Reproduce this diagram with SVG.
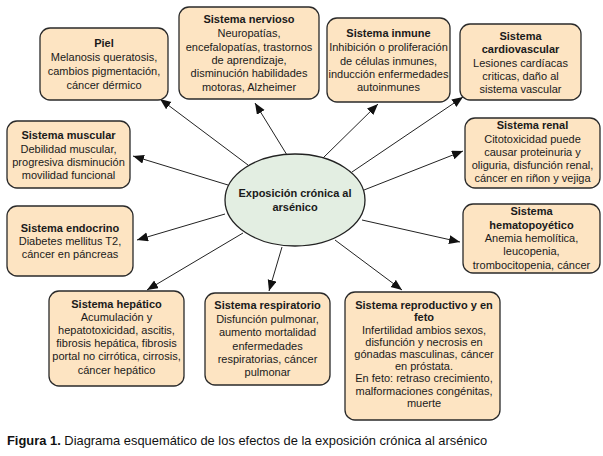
<svg xmlns="http://www.w3.org/2000/svg" width="603" height="456" viewBox="0 0 603 456">
<defs>
<marker id="arr" markerUnits="userSpaceOnUse" markerWidth="12" markerHeight="10" refX="11" refY="4.5" orient="auto">
<path d="M0,0 L11,4.5 L0,9 Z" fill="#111"/>
</marker>
<style>
.box{fill:#FDE4C2;stroke:#2a2a2a;stroke-width:1.3}
.t{font-family:"Liberation Sans",Arial,sans-serif;font-size:11px;fill:#1a1a1a;text-anchor:middle}
.b{font-weight:bold}
.c{stroke:#222;stroke-width:1;fill:none;marker-end:url(#arr)}
</style>
</defs>
<rect width="603" height="456" fill="#fff"/>
<g id="connectors">
<line class="c" x1="248" y1="165" x2="160" y2="99"/>
<line class="c" x1="287" y1="155" x2="255" y2="103"/>
<line class="c" x1="323" y1="158" x2="378" y2="104"/>
<line class="c" x1="352" y1="172" x2="463" y2="97"/>
<line class="c" x1="228" y1="185" x2="133" y2="156"/>
<line class="c" x1="364" y1="190" x2="463" y2="151"/>
<line class="c" x1="225" y1="214" x2="137" y2="240"/>
<line class="c" x1="362" y1="220" x2="460" y2="242"/>
<line class="c" x1="243" y1="233" x2="147" y2="290"/>
<line class="c" x1="282" y1="247" x2="269" y2="291"/>
<line class="c" x1="335" y1="240" x2="402" y2="290"/>
</g>
<g id="center">
<ellipse cx="295" cy="200" rx="70" ry="46" fill="#E3EEE2" stroke="#222" stroke-width="1.3"/>
<text class="t b" x="295" y="197" font-size="11.5">Exposición crónica al</text>
<text class="t b" x="295" y="211" font-size="11.5">arsénico</text>
</g>
<g id="piel">
<rect class="box" x="40" y="28" width="128" height="72" rx="10"/>
<text class="t b" x="104" y="47">Piel</text>
<text class="t" x="104" y="61">Melanosis queratosis,</text>
<text class="t" x="104" y="75">cambios pigmentación,</text>
<text class="t" x="104" y="89">cáncer dérmico</text>
</g>
<g id="nervioso">
<rect class="box" x="179" y="7" width="140" height="92" rx="10"/>
<text class="t b" x="249" y="23">Sistema nervioso</text>
<text class="t" x="249" y="37">Neuropatías,</text>
<text class="t" x="249" y="51">encefalopatías, trastornos</text>
<text class="t" x="249" y="64">de aprendizaje,</text>
<text class="t" x="249" y="77">disminución habilidades</text>
<text class="t" x="249" y="91">motoras, Alzheimer</text>
</g>
<g id="inmune">
<rect class="box" x="327" y="18" width="123" height="84" rx="10"/>
<text class="t b" x="388.5" y="37">Sistema inmune</text>
<text class="t" x="388.5" y="51">Inhibición o proliferación</text>
<text class="t" x="388.5" y="65">de células inmunes,</text>
<text class="t" x="388.5" y="78">inducción enfermedades</text>
<text class="t" x="388.5" y="91">autoinmunes</text>
</g>
<g id="cardiovascular">
<rect class="box" x="460" y="24" width="121" height="76" rx="10"/>
<text class="t b" x="520.5" y="40">Sistema</text>
<text class="t b" x="520.5" y="53">cardiovascular</text>
<text class="t" x="520.5" y="67">Lesiones cardíacas</text>
<text class="t" x="520.5" y="80">criticas, daño al</text>
<text class="t" x="520.5" y="93">sistema vascular</text>
</g>
<g id="muscular">
<rect class="box" x="7" y="121" width="123" height="67" rx="10"/>
<text class="t b" x="68.5" y="139">Sistema muscular</text>
<text class="t" x="68.5" y="153">Debilidad muscular,</text>
<text class="t" x="68.5" y="166">progresiva disminución</text>
<text class="t" x="68.5" y="179">movilidad funcional</text>
</g>
<g id="endocrino">
<rect class="box" x="7" y="206" width="126" height="70" rx="10"/>
<text class="t b" x="70" y="232">Sistema endocrino</text>
<text class="t" x="70" y="245">Diabetes mellitus T2,</text>
<text class="t" x="70" y="258">cáncer en páncreas</text>
</g>
<g id="renal">
<rect class="box" x="465" y="118" width="135" height="70" rx="10"/>
<text class="t b" x="532.5" y="129">Sistema renal</text>
<text class="t" x="532.5" y="143">Citotoxicidad puede</text>
<text class="t" x="532.5" y="156">causar proteinuria y</text>
<text class="t" x="532.5" y="169">oliguria, disfunción renal,</text>
<text class="t" x="532.5" y="182">cáncer en riñon y vejiga</text>
</g>
<g id="hematopoyetico">
<rect class="box" x="463" y="204" width="137" height="69" rx="10"/>
<text class="t b" x="531.5" y="215">Sistema</text>
<text class="t b" x="531.5" y="229">hematopoyético</text>
<text class="t" x="531.5" y="242">Anemia hemolítica,</text>
<text class="t" x="531.5" y="255">leucopenia,</text>
<text class="t" x="531.5" y="269">trombocitopenia, cáncer</text>
</g>
<g id="hepatico">
<rect class="box" x="49" y="291" width="135" height="95" rx="10"/>
<text class="t b" x="116.5" y="308">Sistema hepático</text>
<text class="t" x="116.5" y="321">Acumulación y</text>
<text class="t" x="116.5" y="334">hepatotoxicidad, ascitis,</text>
<text class="t" x="116.5" y="347">fibrosis hepática, fibrosis</text>
<text class="t" x="116.5" y="360">portal no cirrótica, cirrosis,</text>
<text class="t" x="116.5" y="374">cáncer hepático</text>
</g>
<g id="respiratorio">
<rect class="box" x="205" y="293" width="125" height="92" rx="10"/>
<text class="t b" x="267.5" y="309">Sistema respiratorio</text>
<text class="t" x="267.5" y="323">Disfunción pulmonar,</text>
<text class="t" x="267.5" y="336">aumento mortalidad</text>
<text class="t" x="267.5" y="350">enfermedades</text>
<text class="t" x="267.5" y="363">respiratorias, cáncer</text>
<text class="t" x="267.5" y="376">pulmonar</text>
</g>
<g id="reproductivo">
<rect class="box" x="345" y="292" width="155" height="128" rx="10"/>
<text class="t b" x="424" y="309">Sistema reproductivo y en</text>
<text class="t b" x="424" y="321">feto</text>
<text class="t" x="424" y="334">Infertilidad ambios sexos,</text>
<text class="t" x="424" y="346">disfunción y necrosis en</text>
<text class="t" x="424" y="358">gónadas masculinas, cáncer</text>
<text class="t" x="424" y="370">en próstata.</text>
<text class="t" x="424" y="382">En feto: retraso crecimiento,</text>
<text class="t" x="424" y="395">malformaciones congénitas,</text>
<text class="t" x="424" y="407">muerte</text>
</g>
<text x="7" y="445" font-family="&quot;Liberation Sans&quot;,Arial,sans-serif" font-size="12.9" fill="#111"><tspan font-weight="bold">Figura 1.</tspan> Diagrama esquemático de los efectos de la exposición crónica al arsénico</text>
</svg>
